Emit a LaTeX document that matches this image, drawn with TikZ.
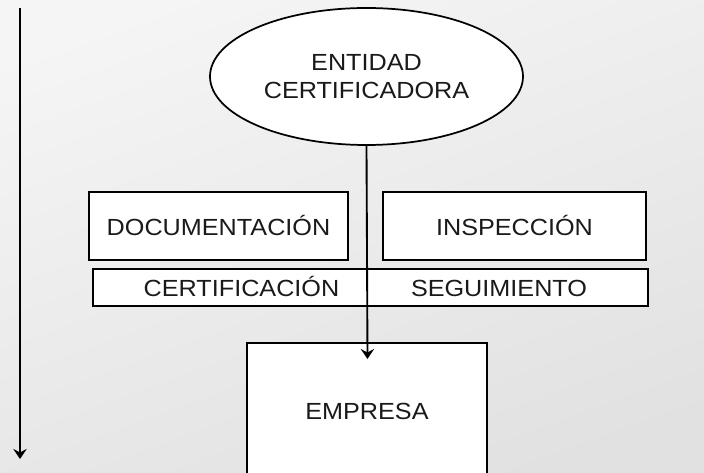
\documentclass[tikz,border=0pt]{standalone}
\usepackage{fontspec}
\setmainfont{Liberation Sans}[FakeStretch=1.08]
\usetikzlibrary{shapes.geometric,arrows.meta}
\definecolor{bgtop}{HTML}{F5F5F5}
\definecolor{bgbot}{HTML}{E1E1E1}
\definecolor{ink}{HTML}{1A1A1A}
\begin{document}
\begin{tikzpicture}[x=0.75pt,y=-0.75pt,
  every node/.style={font=\fontsize{17.5}{21}\selectfont, text=ink, align=center},
  shapebox/.style={draw=black, line width=1.3pt, fill=white, inner sep=0pt},
  label text/.style={inner sep=0pt, anchor=base},
  flow/.style={draw=black, line width=1.4pt, -{Stealth[length=7.5pt,width=10pt,inset=2.6pt]}}]
\useasboundingbox (0,0) rectangle (704,473);
\shade[top color=bgtop, bottom color=bgbot, shading angle=20] (-20,-20) rectangle (724,493);
% left arrow
\coordinate (ltop) at (20,8);
\coordinate (lbot) at (20,459);
\draw[flow] (ltop) -- (lbot);
% ellipse
\node[shapebox, ellipse, minimum width=234.75pt, minimum height=102.75pt] (ent) at (366.5,76.5) {ENTIDAD\\CERTIFICADORA};
% boxes
\node[shapebox, rectangle, minimum width=194.25pt, minimum height=51pt] (doc) at (218.5,226) {DOCUMENTACIÓN};
\node[shapebox, rectangle, minimum width=197.25pt, minimum height=51pt] (insp) at (514.5,226) {INSPECCIÓN};
\node[shapebox, rectangle, minimum width=416.25pt, minimum height=27.75pt] (strip) at (370.5,287.5) {};
\node[label text] (cert) at (241.5,297) {CERTIFICACIÓN};
\node[label text] (seg) at (499,297) {SEGUIMIENTO};
% empresa
\node[shapebox, rectangle, minimum width=180pt, minimum height=102.75pt] (emp) at (367,411.5) {EMPRESA};
\coordinate (tip) at (367.5,359);
\draw[flow] (ent.south) -- (tip);
\end{tikzpicture}
\end{document}
